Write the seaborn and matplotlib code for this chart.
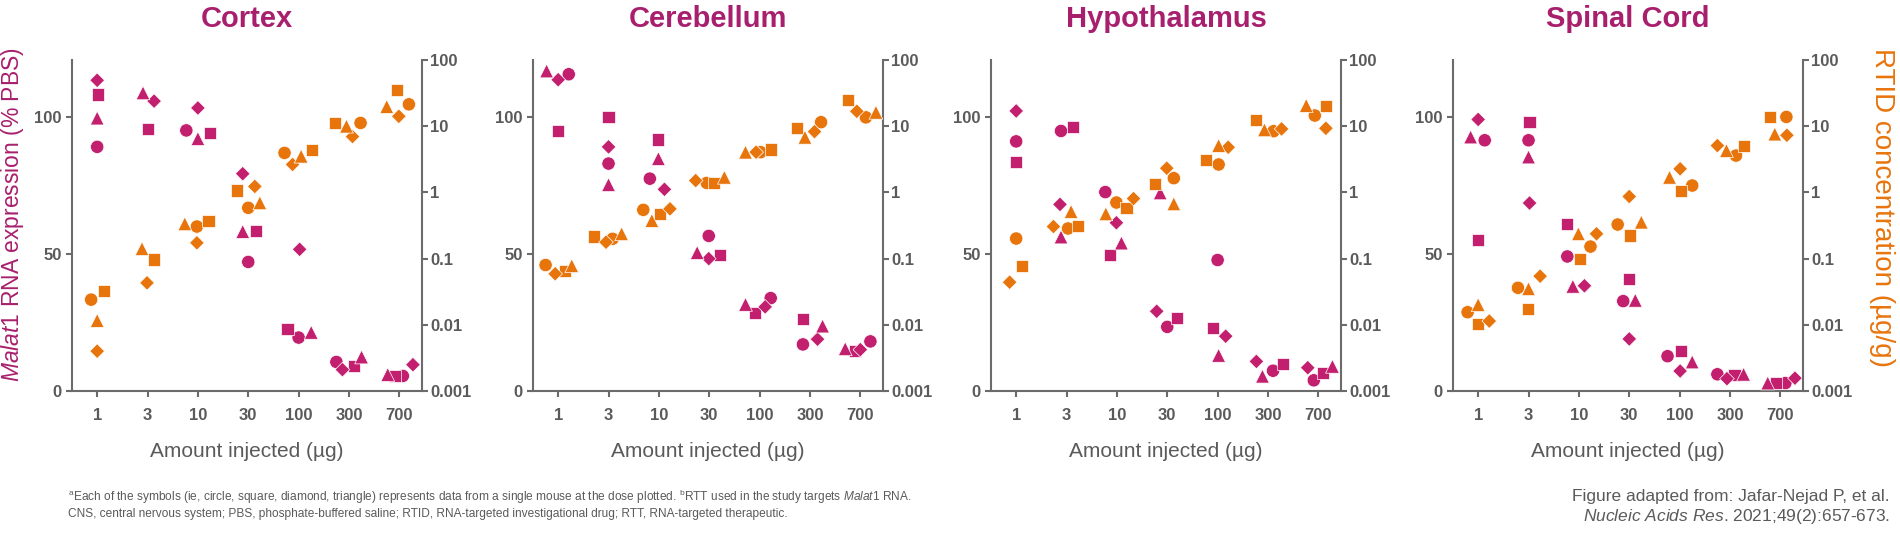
import numpy as np
import pandas as pd
import matplotlib
matplotlib.use("Agg")
import matplotlib.pyplot as plt
import seaborn as sns

nan = np.nan

# Categories
doses = ["1", "3", "10", "30", "100", "300", "700"]
shapes = ["circle", "square", "diamond", "triangle"]
regions = ["Cortex", "Cerebellum", "Hypothalamus", "Spinal Cord"]

# Malat1 RNA expression (% PBS), one list per mouse symbol, by dose
cortex_malat = {
    "circle":   [89.1, nan, 95.1, 47.1, 19.5, 10.6, 5.5],
    "square":   [108.2, 95.5, 94.3, 58.5, 22.7, 9.0, 5.5],
    "diamond":  [113.4, 105.8, 103.3, 79.3, 51.7, 7.8, 9.6],
    "triangle": [99.6, 108.8, 92.1, 58.2, 21.4, 12.4, 6.0],
}
cerebellum_malat = {
    "circle":   [115.6, 83.0, 77.5, 56.6, 33.9, 17.0, 18.1],
    "square":   [94.8, 100.0, 91.8, 49.5, 28.6, 26.4, 14.6],
    "diamond":  [113.6, 89.1, 73.6, 48.3, 30.7, 18.9, 15.1],
    "triangle": [116.8, 75.3, 84.8, 50.5, 31.6, 23.7, 15.4],
}
hypothalamus_malat = {
    "circle":   [91.1, 94.9, 72.6, 23.4, 47.8, 7.4, 3.9],
    "square":   [83.7, 96.4, 49.6, 26.6, 23.0, 10.0, 6.6],
    "diamond":  [102.2, 68.1, 61.4, 29.1, 20.0, 10.8, 8.5],
    "triangle": [nan, 56.2, 54.0, 72.3, 13.0, 5.4, 9.0],
}
spinal_malat = {
    "circle":   [91.5, 91.5, 49.1, 32.8, 12.7, 6.1, 2.9],
    "square":   [55.0, 98.2, 61.1, 41.0, 14.6, 5.7, 2.9],
    "diamond":  [99.1, 68.6, 38.4, 19.0, 7.3, 4.5, 4.7],
    "triangle": [92.7, 85.4, 38.2, 33.1, 10.6, 6.1, 2.9],
}

# RTID concentration (ug/g), one list per mouse symbol, by dose
cortex_rtid = {
    "circle":   [0.024, nan, 0.305, 0.585, 3.95, 11.2, 21.4],
    "square":   [0.032, 0.097, 0.371, 1.07, 4.38, 11.3, 35.6],
    "diamond":  [0.004, 0.043, 0.173, 1.23, 2.64, 6.97, 14.1],
    "triangle": [0.0116, 0.141, 0.335, 0.695, 3.52, 10.0, 19.8],
}
cerebellum_rtid = {
    "circle":   [0.080, 0.199, 0.545, 1.39, 4.05, 11.5, 13.6],
    "square":   [0.065, 0.216, 0.474, 1.39, 4.44, 9.31, 25.2],
    "diamond":  [0.059, 0.177, 0.564, 1.51, 4.05, 8.28, 16.8],
    "triangle": [0.078, 0.237, 0.376, 1.69, 4.05, 6.8, 16.2],
}
hypothalamus_rtid = {
    "circle":   [0.201, 0.285, 0.703, 1.64, 2.64, 8.4, 14.5],
    "square":   [0.077, 0.313, 0.578, 1.35, 3.13, 12.4, 20.5],
    "diamond":  [0.044, 0.305, 0.807, 2.32, 4.81, 9.1, 9.3],
    "triangle": [nan, 0.514, 0.474, 0.671, 5.1, 8.8, 20.5],
}
spinal_rtid = {
    "circle":   [0.0155, 0.0362, 0.152, 0.327, 1.27, 3.6, 13.8],
    "square":   [0.0104, 0.0175, 0.0993, 0.223, 1.04, 4.98, 13.8],
    "diamond":  [0.0114, 0.0543, 0.237, 0.867, 2.27, 5.1, 7.3],
    "triangle": [0.0201, 0.035, 0.237, 0.355, 1.69, 4.28, 7.6],
}

# horizontal nudges (fraction of category width) so symbols don't overlap
cortex_malat_nudge = {
    "circle":   [0, 0, -0.23, 0, 0, -0.25, 0.07],
    "square":   [0.01, 0.01, 0.24, 0.15, -0.22, 0.10, -0.09],
    "diamond":  [0, 0.13, 0, -0.11, 0.02, -0.13, 0.27],
    "triangle": [0, -0.09, 0, -0.11, 0.25, 0.25, -0.23],
}
cortex_rtid_nudge = {
    "circle":   [-0.12, 0, -0.02, 0, -0.28, 0.23, 0.19],
    "square":   [0.13, 0.13, 0.21, -0.23, 0.26, -0.28, -0.05],
    "diamond":  [0, -0.01, -0.02, 0.13, -0.12, 0.07, -0.01],
    "triangle": [0, -0.11, -0.26, 0.23, 0.05, -0.05, -0.25],
}
cerebellum_malat_nudge = {
    "circle":   [0.21, 0, -0.18, -0.01, 0.22, -0.14, 0.20],
    "square":   [0, 0, -0.02, 0.22, -0.10, -0.13, -0.11],
    "diamond":  [0, 0, 0.11, -0.01, 0.11, 0.15, 0],
    "triangle": [-0.23, 0, -0.01, -0.24, -0.28, 0.25, -0.30],
}
cerebellum_rtid_nudge = {
    "circle":   [-0.25, 0.08, -0.31, -0.05, 0.02, 0.22, 0.11],
    "square":   [0.13, -0.28, 0.02, 0.09, 0.22, -0.25, -0.25],
    "diamond":  [-0.06, -0.05, 0.22, -0.27, -0.07, 0.09, -0.07],
    "triangle": [0.27, 0.26, -0.14, 0.30, -0.28, -0.10, 0.31],
}
hypothalamus_malat_nudge = {
    "circle":   [0, -0.11, -0.23, 0, 0, 0.10, -0.09],
    "square":   [0, 0.13, -0.13, 0.19, -0.09, 0.29, 0.10],
    "diamond":  [0, -0.13, -0.01, -0.21, 0.16, -0.23, -0.21],
    "triangle": [0, -0.11, 0.09, -0.14, 0.02, -0.11, 0.28],
}
hypothalamus_rtid_nudge = {
    "circle":   [0, 0.03, -0.01, 0.13, 0.02, 0.11, -0.07],
    "square":   [0.11, 0.22, 0.19, -0.25, -0.23, -0.23, 0.15],
    "diamond":  [-0.13, -0.26, 0.33, -0.01, 0.21, 0.27, 0.15],
    "triangle": [0, 0.09, -0.22, 0.13, 0.02, -0.07, -0.24],
}
spinal_malat_nudge = {
    "circle":   [0.13, 0, -0.23, -0.12, -0.24, -0.25, 0.10],
    "square":   [0, 0.02, -0.23, 0, 0.02, 0.09, -0.09],
    "diamond":  [0, 0.02, 0.11, 0, 0.01, -0.06, 0.29],
    "triangle": [-0.15, 0, -0.12, 0.12, 0.25, 0.27, -0.25],
}
spinal_rtid_nudge = {
    "circle":   [-0.21, -0.21, 0.23, -0.23, 0.25, 0.12, 0.12],
    "square":   [-0.01, -0.01, 0.03, 0.02, 0.02, 0.27, -0.21],
    "diamond":  [0.22, 0.23, 0.35, 0, 0.01, -0.25, 0.13],
    "triangle": [0, 0, -0.01, 0.24, -0.20, -0.07, -0.11],
}

panel_data = {
    "Cortex": (cortex_malat, cortex_rtid, cortex_malat_nudge, cortex_rtid_nudge),
    "Cerebellum": (cerebellum_malat, cerebellum_rtid, cerebellum_malat_nudge, cerebellum_rtid_nudge),
    "Hypothalamus": (hypothalamus_malat, hypothalamus_rtid, hypothalamus_malat_nudge, hypothalamus_rtid_nudge),
    "Spinal Cord": (spinal_malat, spinal_rtid, spinal_malat_nudge, spinal_rtid_nudge),
}

# build long-form table
rows = []
for region, (malat, rtid, m_nudge, r_nudge) in panel_data.items():
    for measure, vals, nudge in [("malat", malat, m_nudge), ("rtid", rtid, r_nudge)]:
        for shape in shapes:
            for i, dose in enumerate(doses):
                rows.append({
                    "region": region, "measure": measure, "shape": shape,
                    "dose": dose, "pos": i + nudge[shape][i], "value": vals[shape][i],
                })
df = pd.DataFrame(rows).dropna(subset=["value"])

# styling
sns.set_theme(style="ticks")
plt.rcParams["font.family"] = ["Liberation Sans", "DejaVu Sans"]
plt.rcParams["mathtext.fontset"] = "custom"
plt.rcParams["mathtext.rm"] = "Liberation Sans"
plt.rcParams["mathtext.it"] = "Liberation Sans:italic"
plt.rcParams["mathtext.bf"] = "Liberation Sans:bold"

MAGENTA = "#C21F6E"
TITLE_MAGENTA = "#A8206D"
ORANGE = "#E8740C"
GRAY = "#5A5A5A"
SPINE = "#6B6B6B"

marker_map = {"circle": "o", "square": "s", "diamond": "D", "triangle": "^"}
size_map = {"circle": 92, "square": 76, "diamond": 56, "triangle": 98}

fig = plt.figure(figsize=(19, 5.45), dpi=100)
lefts = [72, 533, 991, 1453]
W, H = 1900.0, 545.0

for k, region in enumerate(regions):
    ax = fig.add_axes([lefts[k] / W, 1 - 391 / H, 350 / W, 331 / H])
    ax2 = ax.twinx()

    sub = df[df["region"] == region]
    sns.scatterplot(data=sub[sub["measure"] == "malat"], x="pos", y="value",
                    style="shape", markers=marker_map, size="shape", sizes=size_map,
                    color=MAGENTA, edgecolor="white", linewidth=0.5,
                    legend=False, ax=ax, zorder=3)
    sns.scatterplot(data=sub[sub["measure"] == "rtid"], x="pos", y="value",
                    style="shape", markers=marker_map, size="shape", sizes=size_map,
                    color=ORANGE, edgecolor="white", linewidth=0.5,
                    legend=False, ax=ax2, zorder=3)

    ax.set_xlim(-0.5, 6.45)
    ax.set_ylim(0, 120.8)
    ax.set_xticks(range(len(doses)))
    ax.set_xticklabels(doses)
    ax.set_yticks([0, 50, 100])
    ax.set_yticklabels(["0", "50", "100"])

    ax2.set_yscale("log")
    ax2.set_ylim(0.001, 100)
    ax2.set_yticks([0.001, 0.01, 0.1, 1, 10, 100])
    ax2.set_yticklabels(["0.001", "0.01", "0.1", "1", "10", "100"])
    ax2.minorticks_off()

    for a in (ax, ax2):
        a.spines["top"].set_visible(False)
        for s in ("left", "right", "bottom"):
            a.spines[s].set_color(SPINE)
            a.spines[s].set_linewidth(1.5)
        a.tick_params(colors=SPINE, labelcolor=GRAY, width=1.5, length=4,
                      labelsize=12)
        for lab in a.get_xticklabels() + a.get_yticklabels():
            lab.set_fontweight("bold")
    ax.spines["right"].set_visible(False)
    ax2.spines["left"].set_visible(False)
    ax2.spines["bottom"].set_visible(False)
    ax.tick_params(axis="x", pad=8)
    ax2.tick_params(axis="y", pad=2)

    ax.set_xlabel("Amount injected (µg)", fontsize=15, color=GRAY, labelpad=14)
    ax.set_ylabel("")
    ax2.set_ylabel("")
    ax.set_title(region, fontsize=21, fontweight="bold", color=TITLE_MAGENTA, pad=24)

# axis titles for the outer panels
fig.text(13 / W, 1 - 215 / H, r"$\it{Malat1}$ RNA expression (% PBS)", fontsize=16.5,
         color=TITLE_MAGENTA, rotation=90, ha="center", va="center")
fig.text(1882 / W, 1 - 208 / H, "RTID concentration (µg/g)", fontsize=20,
         color=ORANGE, rotation=270, ha="center", va="center")

# footnotes
fig.text(68 / W, 1 - 497 / H,
         r"$^{\rm a}$Each of the symbols (ie, circle, square, diamond, triangle) represents data "
         r"from a single mouse at the dose plotted. $^{\rm b}$RTT used in the study targets "
         r"$\it{Malat1}$ RNA.",
         fontsize=8.6, color=GRAY, va="center", ha="left")
fig.text(68 / W, 1 - 514 / H,
         "CNS, central nervous system; PBS, phosphate-buffered saline; RTID, "
         "RNA-targeted investigational drug; RTT, RNA-targeted therapeutic.",
         fontsize=8.6, color=GRAY, va="center", ha="left")
fig.text(1890 / W, 1 - 497 / H, "Figure adapted from: Jafar-Nejad P, et al.",
         fontsize=12.5, color=GRAY, va="center", ha="right")
fig.text(1890 / W, 1 - 516 / H, r"$\it{Nucleic\ Acids\ Res}$. 2021;49(2):657-673.",
         fontsize=12.5, color=GRAY, va="center", ha="right")

fig.savefig("out.png", dpi=100)
